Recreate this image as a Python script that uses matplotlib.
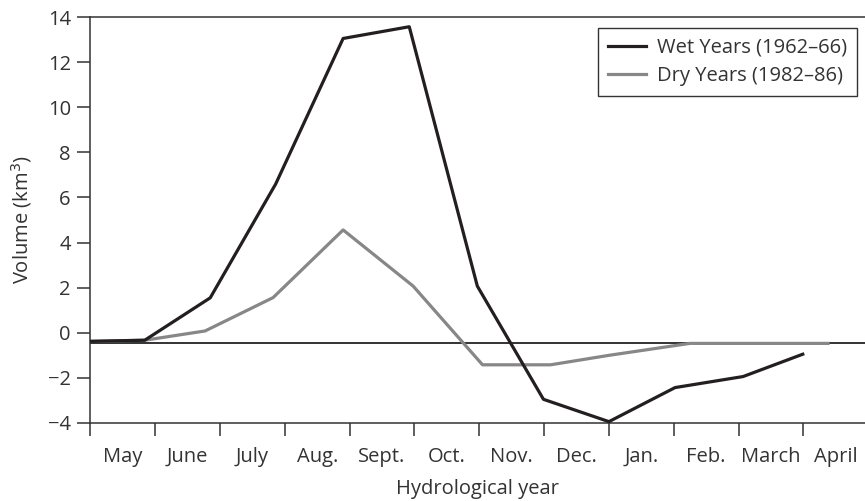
import matplotlib.pyplot as plt
import numpy as np

plt.rcParams["font.family"] = ["Open Sans", "DejaVu Sans"]

# month labels (hydrological year)
months = ["May", "June", "July", "Aug.", "Sept.", "Oct.", "Nov.",
          "Dec.", "Jan.", "Feb.", "March", "April"]

# wet years (1962-66)
wet_x = [0, 0.84, 1.85, 2.86, 3.9, 4.92, 5.97, 6.99, 8.0, 9.02, 10.07, 10.99]
wet_y = [-0.38, -0.33, 1.55, 6.6, 13.05, 13.57, 2.07, -2.95, -3.94, -2.43, -1.94, -0.95]

# dry years (1982-86)
dry_x = [0, 0.84, 1.77, 2.82, 3.9, 4.98, 6.05, 7.1, 8.0, 9.25, 11.38]
dry_y = [-0.38, -0.33, 0.08, 1.56, 4.56, 2.07, -1.42, -1.42, -1.0, -0.47, -0.47]

baseline = -0.47
fs = 14.5

fig = plt.figure(figsize=(8.65, 5.01), dpi=100)
ax = fig.add_axes([0.1044, 0.1557, 0.8956, 0.8103])

ax.axhline(baseline, color="#111111", lw=1.2, zorder=1)
ax.plot(wet_x, wet_y, color="#231f20", lw=2.3, label="Wet Years (1962\u201366)", zorder=3)
ax.plot(dry_x, dry_y, color="#878787", lw=2.3, label="Dry Years (1982\u201386)", zorder=2)

ax.set_xlim(0, 11.95)
ax.set_ylim(-4, 14)
ax.set_yticks(np.arange(-4, 15, 2))
ax.set_yticklabels([str(v).replace("-", "\u2212") for v in range(-4, 15, 2)])

ax.set_xticks(np.arange(0, 12))
ax.set_xticklabels([])
ax.set_xticks(np.arange(12) + 0.5, minor=True)
ax.set_xticklabels(months, minor=True)
ax.tick_params(axis="x", which="minor", length=0, pad=17, labelsize=fs, colors="#333333")
ax.tick_params(axis="x", which="major", length=9.5, width=1.1, color="#333333", direction="out")
ax.tick_params(axis="y", length=9.5, width=1.1, color="#333333", labelsize=fs,
               labelcolor="#333333", pad=4.5)

ax.spines["right"].set_visible(False)
for s in ["top", "left", "bottom"]:
    ax.spines[s].set_linewidth(1.1)
    ax.spines[s].set_color("#333333")

ax.set_xlabel("Hydrological year", fontsize=fs, color="#333333", labelpad=9)
ax.set_ylabel("Volume (km$^3$)", fontsize=fs, color="#333333", labelpad=10)

leg = ax.legend(loc="upper right", bbox_to_anchor=(0.99, 0.973), borderaxespad=0,
                fontsize=fs, fancybox=False, framealpha=1, edgecolor="#333333",
                handlelength=1.9, handletextpad=0.55, labelspacing=0.42, borderpad=0.48)
leg.get_frame().set_linewidth(1.0)
for t in leg.get_texts():
    t.set_color("#333333")

plt.savefig("out.png", dpi=100)
